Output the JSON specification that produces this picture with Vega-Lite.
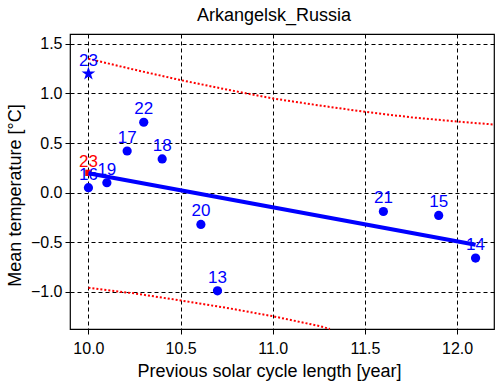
{
  "$schema": "https://vega.github.io/schema/vega-lite/v6.json",
  "width": 424,
  "height": 295,
  "autosize": {"type": "none"},
  "padding": {"left": 70, "top": 34, "right": 10, "bottom": 57},
  "background": "white",
  "view": {"stroke": "black", "strokeWidth": 1.2},
  "config": {
    "font": "Liberation Sans",
    "axis": {
      "grid": true,
      "gridColor": "black",
      "gridDash": [4, 3],
      "gridOpacity": 1,
      "gridWidth": 1,
      "domain": false,
      "ticks": true,
      "tickColor": "black",
      "tickSize": 5,
      "labelFont": "Liberation Sans",
      "labelFontSize": 16,
      "labelColor": "black",
      "titleFont": "Liberation Sans",
      "titleFontSize": 18,
      "titleFontWeight": "normal",
      "titleColor": "black"
    }
  },
  "title": {
    "text": "Arkangelsk_Russia",
    "font": "Liberation Sans",
    "fontSize": 18,
    "fontWeight": "normal",
    "color": "black",
    "offset": 9,
    "dx": -8
  },
  "datasets": {
    "pts": [
      {"cycle": "13", "len": 10.70, "temp": -0.99},
      {"cycle": "14", "len": 12.10, "temp": -0.66},
      {"cycle": "15", "len": 11.90, "temp": -0.23},
      {"cycle": "16", "len": 10.00, "temp": 0.05},
      {"cycle": "17", "len": 10.21, "temp": 0.42},
      {"cycle": "18", "len": 10.40, "temp": 0.34},
      {"cycle": "19", "len": 10.10, "temp": 0.10},
      {"cycle": "20", "len": 10.61, "temp": -0.32},
      {"cycle": "21", "len": 11.60, "temp": -0.19},
      {"cycle": "22", "len": 10.30, "temp": 0.71}
    ],
    "starpt": [{"cycle": "23", "len": 10.00, "temp": 1.20}],
    "pred": [{"cycle": "23", "len": 10.00, "temp": 0.20}],
    "fit": [
      {"len": 10.00, "temp": 0.195},
      {"len": 12.10, "temp": -0.525}
    ],
    "upper": [
      {"len": 10.00, "temp": 1.35},
      {"len": 10.25, "temp": 1.24},
      {"len": 10.50, "temp": 1.135},
      {"len": 10.75, "temp": 1.04},
      {"len": 11.00, "temp": 0.95},
      {"len": 11.25, "temp": 0.88},
      {"len": 11.50, "temp": 0.815},
      {"len": 11.75, "temp": 0.76},
      {"len": 12.00, "temp": 0.717},
      {"len": 12.20, "temp": 0.687}
    ],
    "lower": [
      {"len": 10.00, "temp": -0.96},
      {"len": 10.25, "temp": -1.016},
      {"len": 10.50, "temp": -1.087},
      {"len": 10.75, "temp": -1.162},
      {"len": 11.00, "temp": -1.246},
      {"len": 11.25, "temp": -1.344},
      {"len": 11.31, "temp": -1.375}
    ]
  },
  "encoding": {
    "x": {
      "field": "len",
      "type": "quantitative",
      "scale": {"domain": [9.9, 12.2], "nice": false, "zero": false},
      "axis": {
        "title": "Previous solar cycle length [year]",
        "values": [10, 10.5, 11, 11.5, 12],
        "format": ".1f",
        "labelPadding": 6,
        "titleX": 199,
        "titleY": 47,
        "titleBaseline": "alphabetic"
      }
    },
    "y": {
      "field": "temp",
      "type": "quantitative",
      "scale": {"domain": [-1.375, 1.6], "nice": false, "zero": false},
      "axis": {
        "title": "Mean temperature [°C]",
        "values": [-1, -0.5, 0, 0.5, 1, 1.5],
        "format": ".1f",
        "labelPadding": 3,
        "titleX": -50,
        "titleY": 161,
        "titleBaseline": "alphabetic",
        "titleAngle": -90
      }
    }
  },
  "layer": [
    {
      "data": {"name": "upper"},
      "mark": {"type": "line", "color": "#ff0000", "strokeWidth": 2, "strokeDash": [2, 2]}
    },
    {
      "data": {"name": "lower"},
      "mark": {"type": "line", "color": "#ff0000", "strokeWidth": 2, "strokeDash": [2, 2]}
    },
    {
      "data": {"name": "pred"},
      "mark": {"type": "point", "shape": "square", "filled": true, "color": "#ff0000", "size": 40, "opacity": 1}
    },
    {
      "data": {"name": "pred"},
      "mark": {"type": "text", "color": "#ff0000", "fontSize": 17, "baseline": "alphabetic", "dy": -6},
      "encoding": {"text": {"field": "cycle"}}
    },
    {
      "data": {"name": "fit"},
      "mark": {"type": "line", "color": "#0000ff", "strokeWidth": 4}
    },
    {
      "data": {"name": "pts"},
      "mark": {"type": "circle", "color": "#0000ff", "size": 85, "opacity": 1}
    },
    {
      "data": {"name": "pts"},
      "mark": {"type": "text", "color": "#0000ff", "fontSize": 17, "baseline": "alphabetic", "dy": -8},
      "encoding": {"text": {"field": "cycle"}}
    },
    {
      "data": {"name": "starpt"},
      "mark": {"type": "point", "shape": "M0,-1L0.225,-0.309L0.951,-0.309L0.363,0.118L0.588,0.809L0,0.382L-0.588,0.809L-0.363,0.118L-0.951,-0.309L-0.225,-0.309Z", "filled": true, "color": "#0000ff", "size": 210, "opacity": 1}
    },
    {
      "data": {"name": "starpt"},
      "mark": {"type": "text", "color": "#0000ff", "fontSize": 17, "baseline": "alphabetic", "dy": -8},
      "encoding": {"text": {"field": "cycle"}}
    }
  ]
}
